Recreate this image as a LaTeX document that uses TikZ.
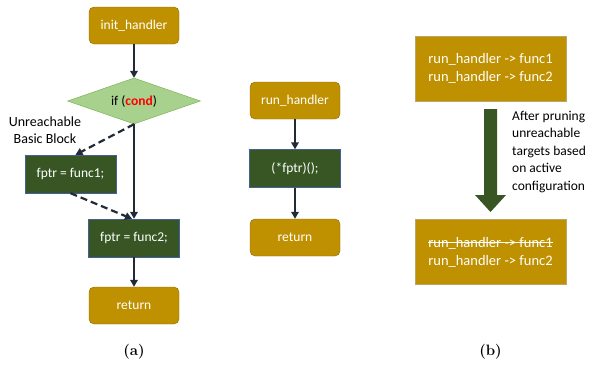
\documentclass[tikz,border=0pt]{standalone}
\usepackage{fontspec}
\newfontfamily\calibri{Carlito}
\usetikzlibrary{arrows.meta,shapes.geometric}
\definecolor{gold}{HTML}{BF9000}
\definecolor{goldline}{HTML}{8C6A00}
\definecolor{leaf}{HTML}{375623}
\definecolor{leafline}{HTML}{41609C}
\definecolor{mint}{HTML}{A9D18E}
\definecolor{mintline}{HTML}{70AD47}
\definecolor{ink}{HTML}{222A35}
\newcommand\crossout[1]{\sbox0{#1}\rlap{\usebox0}\rule[0.28em]{\wd0}{0.6pt}}
\tikzset{
  term/.style={draw=goldline, fill=gold, rounded corners=5pt, minimum width=90pt,
    minimum height=37pt, text=white, font=\calibri\fontsize{13.5}{15}\selectfont},
  stmt/.style={draw=leafline, fill=leaf, minimum width=91pt, minimum height=38pt,
    text=white, font=\calibri\fontsize{13.5}{15}\selectfont},
  edge/.style={ink, line width=2.2pt, -{Triangle[length=7pt,width=7.5pt]}},
  deadedge/.style={edge, dash pattern=on 7pt off 4pt},
  targets/.style={draw=goldline!60!white, fill=gold, minimum width=151pt, minimum height=65pt,
    text=white, align=left, font=\calibri\fontsize{14.5}{18}\selectfont}
}
\begin{document}
\begin{tikzpicture}[x=1pt, y=-1pt]
          \useasboundingbox (0,0) rectangle (596,367);

          % (a) handler setup
          \node[term] (init) at (134,25.5) {init\_handler};
          \node[diamond, draw=mintline, fill=mint, aspect=2.9, minimum width=133pt,
            minimum height=46pt, inner sep=0pt, font=\calibri\fontsize{13.5}{15}\selectfont]
            (cond) at (134,101) {if (\textcolor{red}{\textbf{cond}})};
          \node[stmt] (f1) at (70.5,174) {fptr = func1;};
          \node[stmt] (f2) at (134,238) {fptr = func2;};
          \node[term] (ret1) at (134,305.5) {return};
          \node[align=center, font=\calibri\fontsize{14}{17.5}\selectfont] (dead) at (45,130)
            {Unreachable\\Basic Block};

          \draw[edge] (init) -- (cond);
          \draw[edge] (cond.south) -- (f2.north);
          \draw[deadedge] (cond.south) -- ([xshift=5pt]f1.north);
          \draw[deadedge] (f1.south) -- ([xshift=-2pt]f2.north);
          \draw[edge] (f2) -- (ret1);

          % (a) indirect call
          \node[term] (run) at (295,100.5) {run\_handler};
          \node[stmt] (call) at (295,168.5) {(*fptr)();};
          \node[term] (ret2) at (295,237.5) {return};
          \draw[edge] (run) -- (call);
          \draw[edge] (call) -- (ret2);

          % (b) call targets
          \node[targets] (before) at (490.5,68.5)
            {run\_handler -> func1\\run\_handler -> func2};
          \node[targets] (after) at (490.5,252)
            {\crossout{run\_handler -> func1}\\run\_handler -> func2};
          \fill[leaf] (484,109) -- (497,109) -- (497,195) -- (506,195)
            -- (490.5,212) -- (475,195) -- (484,195) -- cycle;
          \node[anchor=north west, align=left, inner sep=0pt,
            font=\calibri\fontsize{13.5}{17.5}\selectfont] (why) at (512,111)
            {After pruning\\unreachable\\targets based\\on active\\configuration};

          \node[font=\bfseries\fontsize{15}{17}\selectfont] (capa) at (134,352) {(a)};
          \node[font=\bfseries\fontsize{15}{17}\selectfont] (capb) at (490.5,352) {(b)};
        \end{tikzpicture}
\end{document}
